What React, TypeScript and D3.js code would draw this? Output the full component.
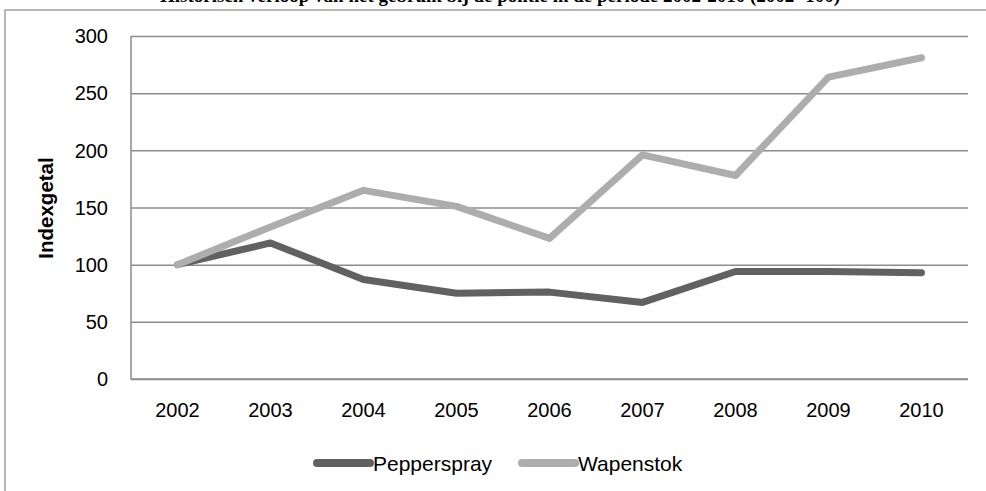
import { useEffect, useRef } from 'react'
import * as d3 from 'd3'

const W = 986, H = 491
const M = { top: 36, right: 18, bottom: 112, left: 131 }

const years = ['2002', '2003', '2004', '2005', '2006', '2007', '2008', '2009', '2010']
const pepperspray = [100, 119, 87, 75, 76, 67, 94, 94, 93]
const wapenstok = [100, 133, 165, 151, 123, 196, 178, 264, 281]
const yTicks = [0, 50, 100, 150, 200, 250, 300]

const series = [
  { name: 'Pepperspray', values: pepperspray, color: '#616161' },
  { name: 'Wapenstok', values: wapenstok, color: '#adadad' },
]

const FONT = 'Liberation Sans, Arial, sans-serif'

export default function App() {
  const svgRef = useRef<SVGSVGElement>(null)

  useEffect(() => {
    const svg = d3.select(svgRef.current!)
    svg.selectAll('*').remove()

    const iw = W - M.left - M.right
    const ih = H - M.top - M.bottom

    // Outer frame (top and left edges visible)
    svg.append('path')
      .attr('d', `M5,${H} V10 H${W}`)
      .attr('fill', 'none').attr('stroke', '#a0a0a0').attr('stroke-width', 1.5)

    // Title, cut off at the top edge as in the source
    svg.append('text')
      .attr('x', 500).attr('y', 2).attr('text-anchor', 'middle')
      .attr('font-family', 'Liberation Serif, Times New Roman, serif')
      .attr('font-weight', 'bold').attr('font-size', 19)
      .text('Historisch verloop van het gebruik bij de politie in de periode 2002-2010 (2002=100)')

    const x = d3.scaleBand().domain(years).range([0, iw])
    const y = d3.scaleLinear().domain([0, 300]).range([ih, 0])

    const g = svg.append('g').attr('transform', `translate(${M.left},${M.top})`)

    // Gridlines
    g.append('g')
      .call(d3.axisLeft(y).tickValues(yTicks).tickSize(-iw).tickFormat(() => ''))
      .call(ax => ax.select('.domain').remove())
      .call(ax => ax.selectAll('.tick line').attr('stroke', '#8c8c8c').attr('stroke-width', 1.5))

    // Axis lines
    g.append('path')
      .attr('d', `M0,0 V${ih} H${iw}`)
      .attr('fill', 'none').attr('stroke', '#8c8c8c').attr('stroke-width', 1.5)

    // Y labels
    g.append('g').selectAll('text').data(yTicks).join('text')
      .attr('x', -23).attr('y', d => y(d)).attr('dy', '0.36em')
      .attr('text-anchor', 'end')
      .attr('font-family', FONT).attr('font-size', 20).attr('fill', '#000')
      .text(d => d)

    // X labels
    g.append('g').selectAll('text').data(years).join('text')
      .attr('x', d => x(d)! + x.bandwidth() / 2).attr('y', ih + 38)
      .attr('text-anchor', 'middle')
      .attr('font-family', FONT).attr('font-size', 20).attr('fill', '#000')
      .text(d => d)

    // Y axis title
    svg.append('text')
      .attr('transform', `translate(53,208) rotate(-90)`)
      .attr('text-anchor', 'middle')
      .attr('font-family', FONT).attr('font-weight', 'bold').attr('font-size', 20.5)
      .text('Indexgetal')

    const line = d3.line<number>()
      .x((_, i) => x(years[i])! + x.bandwidth() / 2)
      .y(v => y(v))

    series.forEach(s => {
      g.append('path').datum(s.values)
        .attr('fill', 'none').attr('stroke', s.color)
        .attr('stroke-width', 7).attr('stroke-linecap', 'round').attr('stroke-linejoin', 'round')
        .attr('d', line)
    })

    // Legend
    const lg = svg.append('g').attr('transform', `translate(0,463)`)
    const lx = [317, 522]
    series.forEach((s, i) => {
      lg.append('line').attr('x1', lx[i]).attr('x2', lx[i] + 53).attr('y1', 0).attr('y2', 0)
        .attr('stroke', s.color).attr('stroke-width', 8).attr('stroke-linecap', 'round')
      lg.append('text').attr('x', lx[i] + 56).attr('y', 0).attr('dy', '0.36em')
        .attr('font-family', FONT).attr('font-size', 21).attr('fill', '#000')
        .text(s.name)
    })
  }, [])

  return (
    <svg ref={svgRef} width={W} height={H} viewBox={`0 0 ${W} ${H}`}
      style={{ position: 'absolute', left: 0, top: 0, background: '#fff' }} />
  )
}
